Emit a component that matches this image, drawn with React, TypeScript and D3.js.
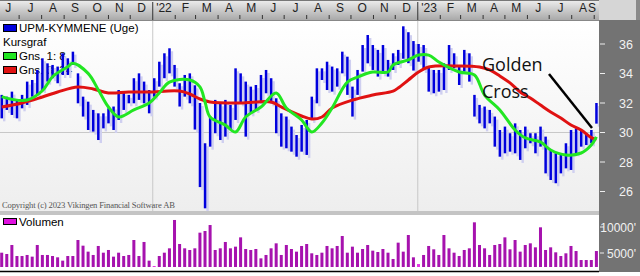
import React from 'react';
import * as d3 from 'd3';

// ---- data ----
const firstWeek = new Date(2021, 5, 7);
const lastWeek = new Date(2023, 8, 4);

const highs = [
  32.55, 32.43, 32.77, 32.21, 32.55, 33.45, 33.56, 34.24, 35.03, 34.69,
  34.58, 34.47, 35.37, 35.03, 35.48, 34.01, 32.43, 32.09, 31.53, 31.3,
  31.3, 31.64, 31.76, 32.88, 32.77, 32.55, 33.68, 34.01, 33.45, 32.88,
  33.68, 34.8, 35.37, 35.71, 34.58, 33.34, 33.9, 34.01, 33.2, 32.0,
  29.27, 31.08, 32.21, 31.98, 32.21, 31.87, 34.35, 34.01, 33.45, 33.11,
  33.22, 33.9, 34.24, 33.68, 32.32, 31.3, 31.08, 30.4, 29.83, 30.51,
  30.85, 32.43, 34.35, 34.35, 34.8, 34.47, 34.35, 35.48, 35.14, 33.11,
  34.24, 35.93, 36.61, 35.93, 35.6, 35.93, 34.92, 35.37, 35.6, 37.2,
  36.8, 36.2, 36.0, 35.93, 34.47, 34.24, 34.24, 34.69, 35.93, 35.37,
  34.47, 35.6, 35.37, 32.55, 31.87, 31.76, 31.53, 31.08, 30.17, 30.4,
  29.95, 30.62, 30.17, 30.4, 29.95, 29.95, 30.4, 29.72, 28.81, 28.59,
  28.59, 29.27, 30.17, 30.28, 30.17, 29.95, 30.17, 32.0,
];
const lows = [
  30.96, 31.53, 31.19, 30.96, 31.64, 31.87, 32.43, 32.55, 32.88, 33.45,
  33.68, 33.34, 33.9, 33.9, 34.58, 31.98, 31.08, 30.17, 30.06, 29.49,
  30.28, 30.62, 30.17, 30.85, 31.53, 31.98, 31.98, 32.21, 31.98, 31.3,
  32.43, 33.11, 33.68, 34.01, 33.11, 31.76, 32.43, 31.98, 30.2, 26.3,
  24.86, 29.04, 29.95, 29.49, 29.72, 30.17, 30.85, 31.98, 29.72, 31.3,
  31.53, 31.98, 32.66, 31.98, 29.95, 29.04, 28.93, 28.7, 28.36, 28.7,
  28.48, 30.85, 31.98, 33.56, 32.88, 32.77, 33.11, 34.01, 32.55, 31.08,
  32.55, 34.13, 34.69, 34.24, 33.79, 34.01, 33.79, 34.24, 34.58, 35.0,
  34.7, 34.2, 34.8, 34.24, 32.77, 32.66, 32.77, 32.88, 34.24, 34.35,
  33.22, 34.13, 33.45, 31.08, 30.62, 30.28, 30.62, 29.04, 28.36, 28.59,
  28.7, 28.59, 28.14, 28.93, 29.27, 28.59, 29.04, 27.23, 26.78, 26.56,
  27.23, 27.57, 27.46, 28.59, 29.04, 29.15, 29.27, 30.6,
];
const volumes = [
  5060, 4810, 6540, 4420, 4420, 4620, 4300, 6540, 4620, 4620,
  4420, 4170, 3530, 4420, 4420, 7500, 6410, 5260, 4620, 6350,
  5060, 5580, 4300, 5060, 4420, 4620, 7500, 4420, 7120, 3530,
  2500, 4420, 5060, 5900, 11350, 6730, 5900, 5580, 5900, 8910,
  9230, 10380, 5580, 5900, 7120, 5900, 6220, 8010, 5770, 5580,
  5770, 3970, 4620, 5900, 6860, 4620, 6540, 5770, 5260, 6350,
  6730, 4940, 4620,
  5060, 6350, 5900, 6350, 8270, 5060, 6220, 5060, 5770, 6540,
  5450, 5190, 5770, 5060, 3850, 6990, 5260, 8460, 4170, 2880,
  4620, 6350, 5710, 4620, 8460, 5900, 5060, 4420, 5580, 5900,
  10900, 6540, 5900, 4620, 6540, 6730, 8010, 5710, 7500, 5260,
  6540, 6860, 6090, 9940, 5580, 6090, 5130, 4420, 4940, 6350,
  5380, 3650, 3650, 3650, 5380,
];
// moving averages: [week number, value]
const fastMA: [number, number][] = [
  [0, 32.43], [2, 32.25], [5, 32.2], [8, 32.83], [10, 33.78], [13, 34.46], [14, 34.69],
  [17, 34.01], [19, 32.9], [21, 31.73], [23, 31.05], [26, 31.53], [29, 32.0], [31, 32.68],
  [33, 33.42], [37, 33.56], [39, 33.09], [40, 32.07], [41, 31.05], [44, 30.5], [46, 30.03],
  [48, 31.05], [51, 31.73], [54, 32.68], [56, 31.66], [59, 30.85], [61, 30.03], [63, 30.64],
  [65, 31.66], [68, 33.42], [70, 33.76], [73, 34.1], [76, 34.1], [77, 34.58], [80, 34.92],
  [82, 35.25], [84, 35.25], [86, 34.78], [90, 34.1], [93, 33.9], [95, 32.54], [98, 31.53],
  [101, 30.17], [103, 29.63], [106, 29.36], [108, 28.81], [111, 28.47], [114, 28.61],
  [116, 29.15], [117, 29.7],
];
const slowMA: [number, number][] = [
  [0, 31.73], [4, 32.0], [8, 32.41], [11, 32.75], [15, 33.09], [18, 32.95], [21, 32.68],
  [25, 32.75], [29, 32.75], [35, 32.81], [37, 32.61], [39, 32.27], [41, 32.07], [47, 32.0],
  [53, 32.07], [55, 31.73], [59, 31.12], [61, 30.91], [63, 31.05], [65, 31.66], [69, 32.2],
  [73, 32.54], [77, 32.81], [78, 33.02], [80, 33.56], [82, 34.1], [84, 34.44], [90, 34.51],
  [94, 34.44], [96, 34.24], [98, 33.83], [100, 33.36], [102, 32.75], [104, 32.34],
  [106, 31.86], [108, 31.39], [110, 30.98], [112, 30.51], [114, 30.17], [116, 29.65], [117, 29.5],
];
const priceTicks = [26, 28, 30, 32, 34, 36];
const volumeTicks = [5000, 10000];
const monthLabels = ['J', 'J', 'A', 'S', 'O', 'N', 'D', "'22", 'F', 'M', 'A', 'M', 'J', 'J', 'A', 'S', 'O', 'N', 'D', "'23", 'F', 'M', 'A', 'M', 'J', 'J', 'A', 'S'];
const legendItems = [
  { label: 'UPM-KYMMENE (Uge)', color: '#0000dd' },
  { label: 'Kursgraf', color: null },
  { label: 'Gns. 1: 8', color: '#22e622' },
  { label: 'Gns. 3: 34', color: '#e01212' },
];

const W = 640;
const H = 276;
const PANEL_R = 599;
const P_TOP = 21;
const P_BOT = 211;
const V_TOP = 215;
const V_BASE = 267;

export default function App() {
  const weeks = highs.map((_, i) => d3.timeDay.offset(firstWeek, i * 7));
  const x = d3.scaleTime().domain([firstWeek, lastWeek]).range([1.7, 596.4]);
  const y = d3.scaleLinear().domain([26, 36]).range([191.5, 44]);
  const yv = d3.scaleLinear().domain([0, 10000]).range([279, 227]);
  const months = d3.timeMonth.range(new Date(2021, 5, 1), new Date(2023, 8, 2));
  const line = d3
    .line<[number, number]>()
    .x((d) => x(d3.timeDay.offset(firstWeek, d[0] * 7)))
    .y((d) => y(d[1]))
    .curve(d3.curveCatmullRom.alpha(0.5));
  const sans = 'Liberation Sans, Arial, sans-serif';

  return (
    <svg width={W} height={H} style={{ position: 'absolute', left: 0, top: 0, display: 'block' }}>
      <defs>
        <linearGradient id="strip" x1="0" y1="0" x2="0" y2="1">
          <stop offset="0" stopColor="#eeeeee" />
          <stop offset="1" stopColor="#a9a9a9" />
        </linearGradient>
        <linearGradient id="pbg" x1="0" y1="0" x2="0" y2="1">
          <stop offset="0" stopColor="#ffffff" />
          <stop offset="1" stopColor="#eeeeee" />
        </linearGradient>
        <clipPath id="pclip">
          <rect x={0} y={P_TOP} width={PANEL_R} height={P_BOT - P_TOP} />
        </clipPath>
        <clipPath id="rclip">
          <rect x={PANEL_R + 1} y={20} width={W - PANEL_R} height={252} />
        </clipPath>
      </defs>
      <rect x={0} y={0} width={W} height={H} fill="#ffffff" />

      {/* top time strip */}
      <rect x={0} y={0} width={PANEL_R} height={20} fill="url(#strip)" />
      <line x1={0} x2={PANEL_R} y1={0.5} y2={0.5} stroke="#777" />
      <line x1={0} x2={PANEL_R} y1={20.5} y2={20.5} stroke="#888" />
      {months.map((m, i) => {
        const xs = x(m);
        const xe = x(d3.timeMonth.offset(m, 1));
        const isYear = m.getMonth() === 0;
        const cx = Math.min((xs + xe) / 2, 592);
        return (
          <g key={i}>
            {isYear ? (
              <line x1={xs} x2={xs} y1={2} y2={20} stroke="#333" strokeWidth={1} />
            ) : (
              <line x1={xs} x2={xs} y1={15} y2={19} stroke="#333" strokeWidth={1} />
            )}
            <text x={cx} y={12} textAnchor="middle" fontFamily={sans} fontSize={12} fill="#222">
              {monthLabels[i]}
            </text>
          </g>
        );
      })}

      {/* price panel */}
      <rect x={0} y={P_TOP} width={PANEL_R} height={P_BOT - P_TOP} fill="url(#pbg)" />
      <line x1={0} x2={PANEL_R} y1={y(30)} y2={y(30)} stroke="#c8c8c8" />
      {months
        .filter((m) => m.getMonth() === 0)
        .map((m, i) => (
          <line key={i} x1={x(m)} x2={x(m)} y1={P_TOP} y2={P_BOT} stroke="#c8c8c8" />
        ))}

      {/* legend */}
      {legendItems.map((it, i) => {
        const cy = 28 + i * 14;
        return (
          <g key={i}>
            {it.color && (
              <rect x={3.5} y={cy - 3.5} width={13} height={7} fill={it.color} stroke="#000" strokeWidth={1} />
            )}
            <text x={it.color ? 19 : 3} y={cy + 4} fontFamily={sans} fontSize={11.5} fill="#000">
              {it.label}
            </text>
          </g>
        );
      })}
      <text x={2} y={208} fontFamily="Liberation Serif, serif" fontSize={8.6} fill="#555" textLength={173}>
        Copyright (c) 2023 Vikingen Financial Software AB
      </text>

      <g clipPath="url(#pclip)">
        {weeks.map((d, i) => (
          <rect
            key={'s' + i}
            x={x(d) + 1.3}
            y={y(highs[i]) + 3}
            width={2.4}
            height={y(lows[i]) - y(highs[i])}
            fill="#cfcff0"
          />
        ))}
        {weeks.map((d, i) => (
          <rect
            key={'b' + i}
            x={x(d) - 1.2}
            y={y(highs[i])}
            width={2.5}
            height={y(lows[i]) - y(highs[i])}
            fill="#0000dd"
          />
        ))}
        <path d={line(slowMA) || ''} fill="none" stroke="#e01212" strokeWidth={3} />
        <path d={line(fastMA) || ''} fill="none" stroke="#22e622" strokeWidth={3} />
        <line x1={549} y1={74} x2={592} y2={128} stroke="#000" strokeWidth={2.5} />
        <text x={482} y={71} fontFamily="Open Sans, DejaVu Sans, sans-serif" fontSize={18} fill="#111">
          Golden
        </text>
        <text x={482} y={98} fontFamily="Open Sans, DejaVu Sans, sans-serif" fontSize={18} fill="#111">
          Cross
        </text>
      </g>

      {/* separator */}
      <rect x={0} y={P_BOT} width={PANEL_R} height={V_TOP - P_BOT} fill="#c4c4c4" />

      {/* volume panel */}
      <rect x={0} y={V_TOP} width={PANEL_R} height={V_BASE + 3 - V_TOP} fill="#ffffff" />
      {weeks.map((d, i) => {
        const top = yv(volumes[i]);
        return (
          <rect
            key={'v' + i}
            x={x(d) - 1.5}
            y={top}
            width={3}
            height={V_BASE - top}
            fill={volumes[i] < 3000 ? '#e23ae2' : '#a612ae'}
          />
        );
      })}
      <rect x={3.5} y={218.5} width={13} height={6} fill="#e010e0" stroke="#000" strokeWidth={1} />
      <text x={19} y={226} fontFamily={sans} fontSize={11.5} fill="#000">
        Volumen
      </text>
      <line x1={0} x2={PANEL_R} y1={271.5} y2={271.5} stroke="#000" strokeWidth={1.5} />

      {/* right axis panel */}
      <rect x={PANEL_R} y={0} width={W - PANEL_R} height={20} fill="#d6d6d6" />
      <rect x={W - 4} y={0} width={4} height={20} fill="#8a8a8a" />
      <rect x={PANEL_R} y={20} width={W - PANEL_R} height={252} fill="#737373" />
      <g clipPath="url(#rclip)">
        {priceTicks.map((t) => (
          <g key={'p' + t}>
            <line x1={PANEL_R} x2={PANEL_R + 6} y1={y(t)} y2={y(t)} stroke="#eee" />
            <text x={633} y={y(t) + 4.5} textAnchor="end" fontFamily={sans} fontSize={12.5} fill="#f2f2f2">
              {t}
            </text>
          </g>
        ))}
        {volumeTicks.map((t) => (
          <g key={'v' + t}>
            <line x1={PANEL_R} x2={PANEL_R + 5} y1={yv(t)} y2={yv(t)} stroke="#eee" />
            <text x={636} y={yv(t) + 4.5} textAnchor="end" fontFamily={sans} fontSize={12} fill="#f2f2f2">
              {t + "'"}
            </text>
          </g>
        ))}
      </g>
    </svg>
  );
}
